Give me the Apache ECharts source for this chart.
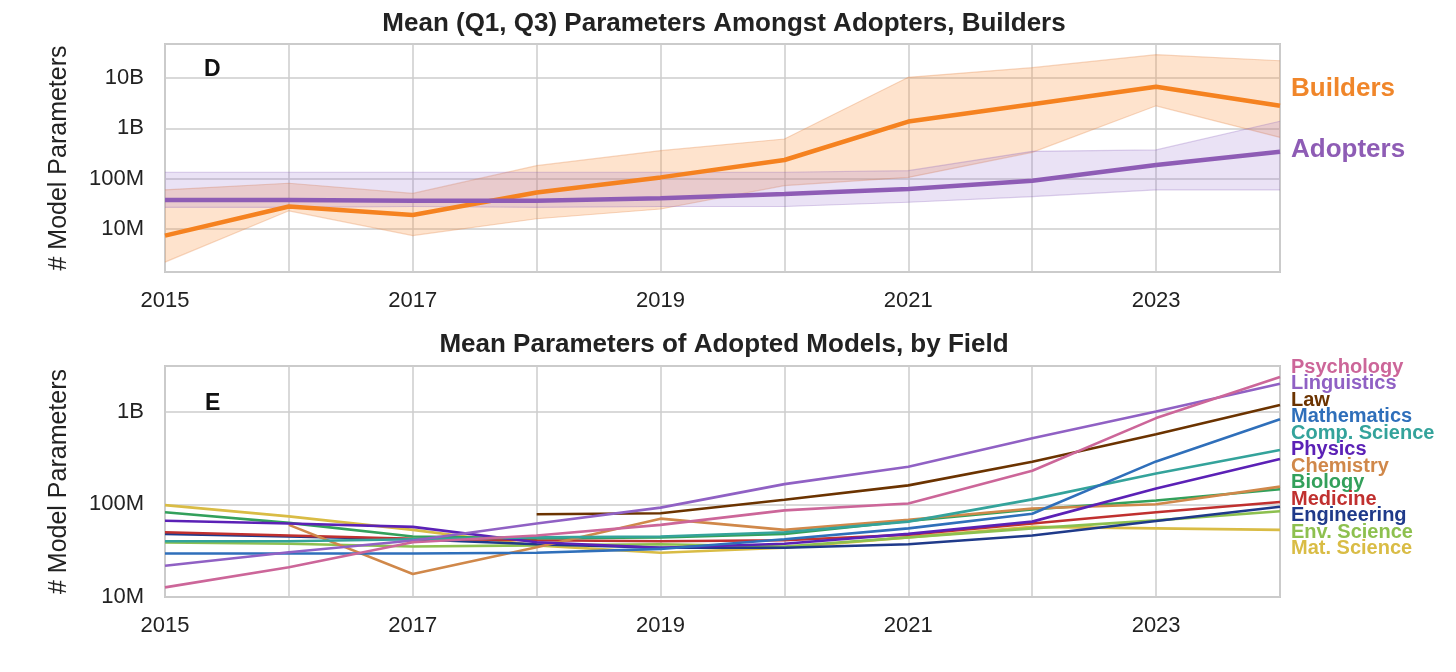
<!DOCTYPE html>
<html>
<head>
<meta charset="utf-8">
<script src="https://cdn.jsdelivr.net/npm/echarts@6/dist/echarts.min.js"></script>
<style>
html,body{margin:0;padding:0;background:#fff;}
#chart{width:1456px;height:672px;}
</style>
</head>
<body>
<div id="chart"></div>
<script>
// ---------- DATA ----------
const years = [2015, 2016, 2017, 2018, 2019, 2020, 2021, 2022, 2023, 2024];
const xTickLabels = ['2015', '2017', '2019', '2021', '2023'];
const topTickLabels = ['10M', '100M', '1B', '10B'];
const bottomTickLabels = ['10M', '100M', '1B'];

// Panel D
const buildersMean = [7.4e6, 28e6, 19e6, 53e6, 106e6, 235e6, 1.36e9, 3.0e9, 6.7e9, 2.8e9];
const buildersQ1   = [2.2e6, 23e6, 7.4e6, 16e6, 25e6, 73e6, 106e6, 333e6, 2.8e9, 660e6];
const buildersQ3   = [60e6, 81e6, 51e6, 181e6, 360e6, 614e6, 10.3e9, 16e9, 29e9, 22e9];
const adoptersMean = [37.7e6, 37.9e6, 36.6e6, 36.6e6, 41e6, 49.6e6, 62e6, 91e6, 187e6, 344e6];
const adoptersQ1   = [27e6, 27e6, 28e6, 27e6, 28e6, 28e6, 34e6, 44e6, 60e6, 60e6];
const adoptersQ3   = [134e6, 134e6, 134e6, 134e6, 134e6, 134e6, 144e6, 349e6, 372e6, 1.38e9];

// Panel E
const fields = ['Psychology', 'Linguistics', 'Law', 'Mathematics', 'Comp. Science', 'Physics',
                'Chemistry', 'Biology', 'Medicine', 'Engineering', 'Env. Science', 'Mat. Science'];
const psychology   = [12.7e6, 20.9e6, 39e6, 46e6, 60e6, 86e6, 102e6, 230e6, 850e6, 2.36e9];
const linguistics  = [21.7e6, 30.4e6, 40.7e6, 62e6, 92e6, 165e6, 254e6, 515e6, 1.0e9, 2.0e9];
const law          = [null, null, null, 78e6, 80e6, 112e6, 160e6, 287e6, 570e6, 1.18e9];
const mathematics  = [29.4e6, 29.4e6, 29.5e6, 30e6, 33e6, 42e6, 55e6, 79e6, 290e6, 828e6];
const compScience  = [40e6, 40e6, 42e6, 44e6, 45e6, 50e6, 65e6, 113e6, 215e6, 385e6];
const physics      = [66.5e6, 62e6, 57e6, 39e6, 34e6, 37.5e6, 48e6, 65e6, 148e6, 308e6];
const chemistry    = [null, 60e6, 17.7e6, 34.4e6, 70e6, 53e6, 68e6, 90e6, 100e6, 155e6];
const biology      = [82e6, 63e6, 45e6, 43e6, 44e6, 48e6, 66e6, 88e6, 110e6, 145e6];
const medicine     = [50e6, 46e6, 42.5e6, 41e6, 40e6, 41e6, 47e6, 62e6, 82e6, 106e6];
const engineering  = [48e6, 45e6, 42e6, 37e6, 34e6, 34e6, 37e6, 46e6, 66e6, 94e6];
const envScience   = [38.7e6, 37.5e6, 35e6, 36e6, 37e6, 35e6, 44e6, 55e6, 67e6, 84e6];
const matScience   = [98e6, 74e6, 53e6, 36e6, 30e6, 34e6, 44e6, 57e6, 55e6, 53e6];

const fieldValues = [psychology, linguistics, law, mathematics, compScience, physics,
                     chemistry, biology, medicine, engineering, envScience, matScience];
const fieldColors = ['#cc6699', '#9061c4', '#6b3300', '#2f6fba', '#34a39b', '#5b21b6',
                     '#d0884a', '#33a05b', '#c0302f', '#1f3a8a', '#8dc04f', '#d9bc45'];

// ---------- HELPERS ----------
function pairs(vals) {
  const out = [];
  vals.forEach((v, i) => { if (v !== null) out.push([years[i], v]); });
  return out;
}
function fmtParam(v) {
  const e = Math.round(Math.log10(v));
  const map = {7: '10M', 8: '100M', 9: '1B', 10: '10B'};
  return map[e] || '';
}
const FONT = 'Liberation Sans, Arial, Helvetica, sans-serif';
const gridCol = '#cccccc';

function xAxis(gridIndex) {
  return {
    type: 'value', gridIndex, min: 2015, max: 2024, interval: 1,
    axisLine: {show: false}, axisTick: {show: false},
    axisLabel: {
      fontFamily: FONT, fontSize: 22, color: '#222', margin: 18,
      formatter: v => xTickLabels.indexOf(String(v)) >= 0 ? String(v) : ''
    },
    splitLine: {show: true, lineStyle: {color: gridCol, width: 1.5}}
  };
}
function yAxis(gridIndex, min, max, showMin, labels) {
  return {
    type: 'log', logBase: 10, gridIndex, min, max,
    name: '# Model Parameters', nameLocation: 'middle', nameGap: 93,
    nameTextStyle: {fontFamily: FONT, fontSize: 25, color: '#222'},
    axisLine: {show: false}, axisTick: {show: false},
    axisLabel: {
      fontFamily: FONT, fontSize: 22, color: '#222', margin: 21,
      showMinLabel: showMin, showMaxLabel: false,
      formatter: v => { const s = fmtParam(v); return labels.indexOf(s) >= 0 ? s : ''; }
    },
    splitLine: {show: true, lineStyle: {color: gridCol, width: 1.5}}
  };
}

const series = [];
// Bands drawn as polygons through the axis scales
function band(lo, hi, fill, edge) {
  series.push({
    type: 'custom', xAxisIndex: 0, yAxisIndex: 0, silent: true, z: 1,
    data: years.map((y, i) => [y, lo[i], hi[i]]),
    encode: {x: 0, y: [1, 2]},
    renderItem: function (params, api) {
      if (params.dataIndex !== 0) return null;
      const top = years.map((y, i) => api.coord([y, hi[i]]));
      const bot = years.map((y, i) => api.coord([y, lo[i]]));
      const poly = top.concat(bot.slice().reverse());
      return {
        type: 'group',
        children: [
          {type: 'polygon', shape: {points: poly}, style: {fill: fill, stroke: null}},
          {type: 'polyline', shape: {points: top}, style: {stroke: edge, lineWidth: 1.2, fill: null}},
          {type: 'polyline', shape: {points: bot}, style: {stroke: edge, lineWidth: 1.2, fill: null}}
        ]
      };
    }
  });
}
band(buildersQ1, buildersQ3, 'rgba(250,150,70,0.27)', 'rgba(230,140,80,0.35)');
band(adoptersQ1, adoptersQ3, 'rgba(150,110,205,0.2)', 'rgba(140,100,190,0.3)');
series.push({
  type: 'line', xAxisIndex: 0, yAxisIndex: 0, data: pairs(buildersMean), symbol: 'none',
  lineStyle: {width: 4.5, color: '#f58220'}, z: 3
});
series.push({
  type: 'line', xAxisIndex: 0, yAxisIndex: 0, data: pairs(adoptersMean), symbol: 'none',
  lineStyle: {width: 4.5, color: '#8e5cb5'}, z: 3
});
// Fields
for (let i = fieldValues.length - 1; i >= 0; i--) {
  series.push({
    name: fields[i], type: 'line', xAxisIndex: 1, yAxisIndex: 1, data: pairs(fieldValues[i]),
    symbol: 'none', lineStyle: {width: 2.6, color: fieldColors[i]}, z: 3
  });
}

const graphics = [
  {type: 'text', left: 204, top: 58, style: {text: 'D', font: 'bold 23px ' + FONT, fill: '#111'}},
  {type: 'text', left: 205, top: 392, style: {text: 'E', font: 'bold 23px ' + FONT, fill: '#111'}},
  {type: 'text', left: 1291, top: 76, style: {text: 'Builders', font: 'bold 26px ' + FONT, fill: '#f0862a'}},
  {type: 'text', left: 1291, top: 137, style: {text: 'Adopters', font: 'bold 26px ' + FONT, fill: '#8e5cb5'}}
];
fields.forEach((f, i) => {
  graphics.push({
    type: 'text', left: 1291, top: 357 + i * 16.5,
    style: {text: f, font: 'bold 20px ' + FONT, fill: fieldColors[i]}
  });
});

const chart = echarts.init(document.getElementById('chart'), null, {renderer: 'canvas'});
chart.setOption({
  animation: false,
  backgroundColor: '#fff',
  title: [
    {text: 'Mean (Q1, Q3) Parameters Amongst Adopters, Builders', left: 719, textAlign: 'center', top: 6,
     textStyle: {fontFamily: FONT, fontSize: 26, fontWeight: 'bold', color: '#222'}},
    {text: 'Mean Parameters of Adopted Models, by Field', left: 719, textAlign: 'center', top: 327,
     textStyle: {fontFamily: FONT, fontSize: 26, fontWeight: 'bold', color: '#222'}}
  ],
  grid: [
    {left: 165, right: 176, top: 44, height: 228, show: true, borderColor: '#c8c8c8', borderWidth: 2},
    {left: 165, right: 176, top: 366, height: 231, show: true, borderColor: '#c8c8c8', borderWidth: 2}
  ],
  xAxis: [xAxis(0), xAxis(1)],
  yAxis: [yAxis(0, 1.4e6, 4.73e10, false, topTickLabels), yAxis(1, 1e7, 3.1e9, true, bottomTickLabels)],
  series,
  graphic: graphics
});
</script>
</body>
</html>
